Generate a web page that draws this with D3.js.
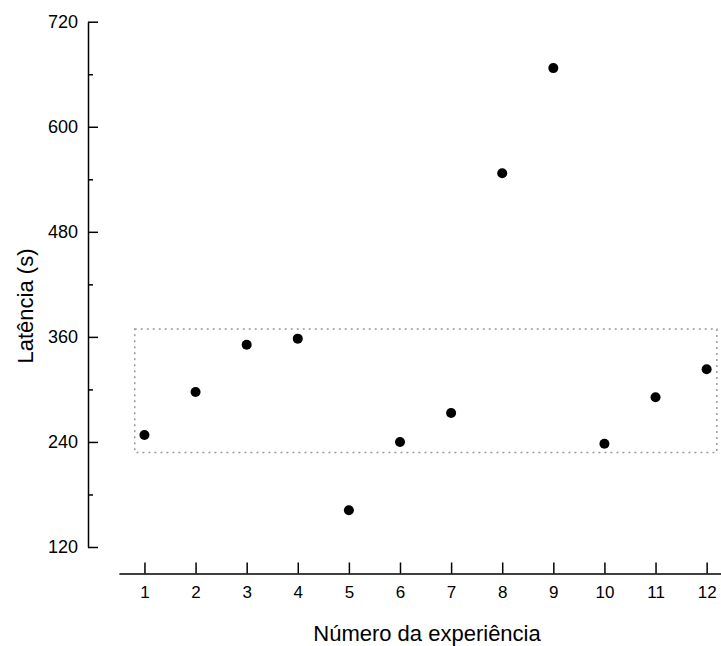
<!DOCTYPE html>
<html lang="pt">
<head>
<meta charset="UTF-8">
<title>Latência por experiência</title>
<style>
    body { margin: 0; background: #fff; }
    svg text { font-family: "Liberation Sans", Arial, sans-serif; fill: #000; }
    .axis path, .axis line { stroke: #000; stroke-width: 1.5px; }
    .box { fill: none; stroke: #999; stroke-width: 1.5px; stroke-dasharray: 2,4; }
</style>
</head>
<body>
<script src="https://d3js.org/d3.v7.min.js"></script>
<script>
    // dados
    const experiments = [1, 2, 3, 4, 5, 6, 7, 8, 9, 10, 11, 12];
    const latency = [248, 297, 351, 358, 162, 240, 273, 547, 667, 238, 291, 323];
    const yMajor = [120, 240, 360, 480, 600, 720];
    const yMinor = [180, 300, 420, 540, 660];
    const boxX = [0.81, 12.2];
    const boxY = [228, 369];

    const width = 721, height = 646;

    const svg = d3.select('body').append('svg')
        .attr('width', width)
        .attr('height', height);

    const x = d3.scaleLinear().domain([0.5, 12.5]).range([118.9, 732.2]);
    const y = d3.scaleLinear().domain([120, 720]).range([547, 21.7]);

    // eixo y
    const yAxis = svg.append('g')
        .attr('class', 'axis')
        .attr('transform', 'translate(88,0)')
        .call(d3.axisLeft(y).tickValues(yMajor).tickSizeInner(-10).tickSizeOuter(0).tickPadding(10));
    yAxis.selectAll('text').style('font-size', '18px');

    svg.append('g')
        .attr('class', 'axis')
        .attr('transform', 'translate(88,0)')
        .call(d3.axisLeft(y).tickValues(yMinor).tickSizeInner(-5).tickSizeOuter(0).tickFormat(''))
        .select('.domain').remove();

    // eixo x
    const xAxis = svg.append('g')
        .attr('class', 'axis')
        .attr('transform', 'translate(0,573.5)')
        .call(d3.axisBottom(x).tickValues(experiments).tickSizeInner(-11).tickSizeOuter(0).tickPadding(12));
    xAxis.selectAll('text').style('font-size', '17px');

    svg.selectAll('.domain').attr('stroke-width', 1.5);

    // retângulo pontilhado
    svg.append('rect')
        .attr('class', 'box')
        .attr('x', x(boxX[0]))
        .attr('y', y(boxY[1]))
        .attr('width', x(boxX[1]) - x(boxX[0]))
        .attr('height', y(boxY[0]) - y(boxY[1]));

    // pontos
    svg.selectAll('circle.pt')
        .data(experiments)
        .join('circle')
        .attr('class', 'pt')
        .attr('cx', d => x(d))
        .attr('cy', (d, i) => y(latency[i]))
        .attr('r', 5)
        .attr('fill', '#000');

    // títulos dos eixos
    svg.append('text')
        .attr('x', 427)
        .attr('y', 641)
        .attr('text-anchor', 'middle')
        .style('font-size', '22px')
        .text('Número da experiência');

    svg.append('text')
        .attr('transform', 'translate(33,306) rotate(-90)')
        .attr('text-anchor', 'middle')
        .style('font-size', '22px')
        .text('Latência (s)');
</script>
</body>
</html>
